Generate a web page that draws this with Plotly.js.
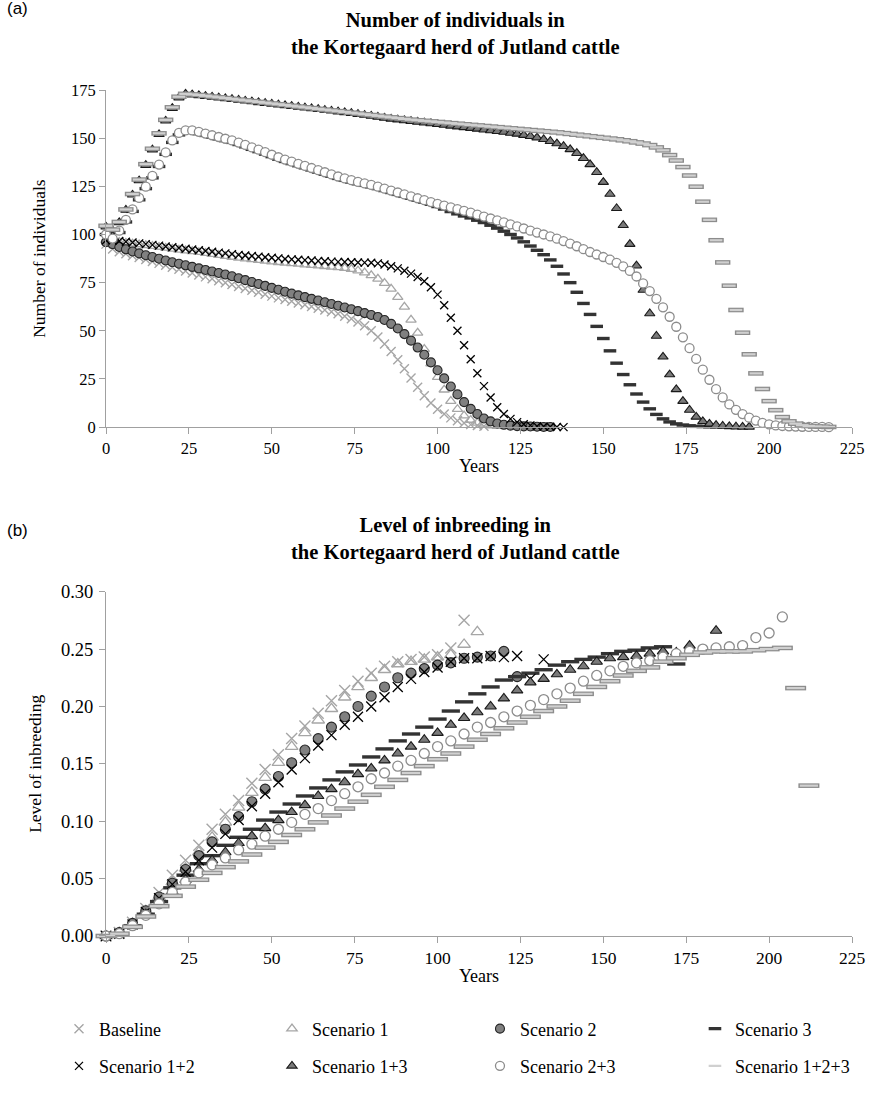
<!DOCTYPE html>
<html><head><meta charset="utf-8">
<script src="https://cdn.plot.ly/plotly-3.0.1.min.js"></script>
<style>html,body{margin:0;padding:0;background:#fff}#chart{width:872px;height:1097px}</style>
</head><body><div id="chart"></div>
<script>
// ---------- DATA ----------
const names = ['Baseline','Scenario 1','Scenario 2','Scenario 3','Scenario 1+2','Scenario 1+3','Scenario 2+3','Scenario 1+2+3'];

// (a) number of individuals, every 2 years
const yearsA = [0,2,4,6,8,10,12,14,16,18,20,22,24,26,28,30,32,34,36,38,40,42,44,46,48,50,52,54,56,58,60,62,64,66,68,70,72,74,76,78,80,82,84,86,88,90,92,94,96,98,100,102,104,106,108,110,112,114,116,118,120,122,124,126,128,130,132,134,136,138,140,142,144,146,148,150,152,154,156,158,160,162,164,166,168,170,172,174,176,178,180,182,184,186,188,190,192,194,196,198,200,202,204,206,208,210,212,214,216,218];

const nBaseline = [95,92.5,91,90,89,88,87,86,85,84,83,82,81,80,79,78,77,76,75,74,73,72,71,70,69,68,67.1,66.2,65.3,64.4,63.5,62.6,61.7,60.8,59.9,58.8,57.6,56.2,54.6,52.6,50,46.8,43.2,39.3,35,30.3,25.5,20.7,16.3,12.5,9.3,6.8,4.8,3.3,2.1,1.3,0.8,0.4];
const nS1 = [97,96.4,96,95.6,95.2,94.8,94.4,94,93.5,93,92.5,92,91.6,91.2,90.8,90.3,89.8,89.3,88.8,88.3,87.9,87.5,87.1,86.7,86.3,85.9,85.6,85.3,85,84.7,84.4,84.1,83.8,83.5,83.2,82.9,82.5,82,81.2,80.2,78.8,77,74.8,71.8,67.5,62.4,55.7,48.9,40.5,33,26,19.4,13.5,9.3,6,3.7,2.2,1.3,0.8,0.5];
const nS2 = [96,95,93.5,92.3,91.2,90.2,89.2,88.3,87.4,86.5,85.6,84.8,84,83.2,82.4,81.6,80.8,80,79.2,78.3,77.3,76.3,75.3,74.3,73.3,72.3,71.3,70.3,69.3,68.4,67.5,66.6,65.7,64.8,63.9,63,62.1,61.2,60.2,59.2,58.2,57.2,55.6,53.6,51.2,48.3,44.9,41.3,37.6,33.6,29.5,25.3,21.1,17,13,9.5,6.8,4.5,3,1.9,1.2,0.8,0.5,0.4,0.3,0.2,0.1,0.1];
const nS3 = [100,97,101,106.5,112,118,123.8,129.4,135.3,141.6,147.8,151.7,153,153,152.3,151.4,150.5,149.6,148.7,147.8,146.7,145.5,144.2,143,141.7,140.4,139.1,137.9,136.8,135.7,134.6,133.5,132.4,131.3,130.2,129.1,128.1,127.2,126.3,125.5,124.7,123.8,122.8,121.8,120.8,119.8,118.8,117.8,116.8,115.7,114.5,113.2,111.9,110.7,109.6,108.6,107.4,106.2,104.8,103.3,101.7,100,98.2,96.2,94,91.8,89.5,86.8,83.5,79.5,75,70,64.2,58.5,52.3,46,39.6,33.2,27.3,22,17.2,13,9.5,6.6,4.3,2.7,1.7,1.1,0.7,0.4,0.3,0.2,0.1];
const nS12 = [97,97,96.6,96.2,95.8,95.4,95,94.6,94.2,93.8,93.4,93,92.6,92.2,91.8,91.4,91,90.6,90.2,89.8,89.4,89.1,88.8,88.5,88.2,87.9,87.6,87.3,87.1,86.9,86.7,86.5,86.3,86.1,85.9,85.8,85.7,85.6,85.5,85.4,85.3,85,84.4,83.5,82.4,81.2,79.7,77.9,75.7,72.6,68.8,63.3,56.8,50,42.5,35.2,28,21.3,15.4,10.3,6.8,4.3,2.6,1.5,0.9,0.5,0.3,0.2,0.1,0];
const nS13 = [104,102,106.3,112.7,120.6,128,136,144,152,159,165.6,171,173,172.6,172.2,171.8,171.4,171,170.6,170.2,169.8,169.4,169,168.6,168.2,167.8,167.4,167,166.6,166.2,165.8,165.4,165,164.6,164.2,163.8,163.4,163,162.5,162,161.5,161,160.5,160,159.6,159.2,158.8,158.4,158,157.6,157.2,156.8,156.4,156,155.6,155.2,154.8,154.4,154,153.6,153.2,152.7,152.2,151.6,151,150.3,149.4,148.4,147.2,145.8,144.2,142.2,139.6,136.4,132.3,127.2,121,113.6,104.8,95,83.8,71.2,59,47.3,36.5,27.3,19.6,13.5,8.9,5.3,3,1.7,1,0.6,0.4,0.2,0.1,0.1];
const nS23 = [100,97.9,102,107.6,113,119,124.8,130.4,136.3,142.6,148.8,152.7,154,154,153.3,152.4,151.5,150.6,149.7,148.8,147.7,146.5,145.2,144,142.7,141.4,140.1,138.9,137.8,136.7,135.6,134.5,133.4,132.3,131.2,130.1,129.1,128.2,127.3,126.5,125.7,124.8,123.8,122.8,121.8,120.8,119.8,118.8,117.8,116.8,115.9,115,114.1,113.2,112.3,111.3,110.3,109.3,108.3,107.3,106.3,105.2,104.2,103.1,102,101,100,99,97.8,96.6,95.3,93.9,92.4,90.9,89.6,88.3,86.9,85.3,83.4,81.1,78.2,74.6,70.6,66.6,62.2,57.3,52.1,46.6,41,35.4,29.8,24.6,19.7,15.4,11.8,9,6.8,4.9,3.4,2.2,1.4,0.9,0.6,0.4,0.3,0.2,0.1,0.1,0.1,0];
const nS123 = [104.5,102.5,106.5,113,121,128.5,136.5,144.5,152.5,159.5,166,171.5,173,172.7,172.4,172,171.6,171.2,170.8,170.4,170,169.6,169.2,168.8,168.4,168,167.6,167.2,166.8,166.4,166,165.6,165.2,164.8,164.4,164,163.6,163.2,162.8,162.4,162,161.6,161.2,160.8,160.4,160,159.6,159.3,159,158.7,158.4,158.1,157.8,157.5,157.2,156.9,156.6,156.3,156,155.7,155.4,155.1,154.8,154.5,154.2,153.9,153.6,153.3,153,152.6,152.2,151.8,151.4,151,150.6,150.2,149.8,149.4,148.9,148.4,147.8,147.2,146.4,145.2,143.7,141.2,138.4,135,130.6,124.8,117,107.6,97,85.5,73.4,60.8,49,37.8,27.9,19.8,13.5,8.8,5.2,3,1.8,1,0.6,0.3,0.2,0.1];

// (b) level of inbreeding, every 4 years
const yearsB = [0,4,8,12,16,20,24,28,32,36,40,44,48,52,56,60,64,68,72,76,80,84,88,92,96,100,104,108,112,116,120,124,128,132,136,140,144,148,152,156,160,164,168,172,176,180,184,188,192,196,200,204,208,212];

const fBaseline = [0,0.003,0.012,0.024,0.038,0.053,0.066,0.079,0.093,0.106,0.118,0.133,0.145,0.158,0.172,0.183,0.194,0.205,0.214,0.222,0.229,0.235,0.239,0.241,0.243,0.245,0.251,0.275];
const fS1 = [0,0.003,0.011,0.022,0.034,0.047,0.059,0.073,0.086,0.099,0.112,0.125,0.138,0.151,0.165,0.177,0.188,0.198,0.208,0.217,0.225,0.232,0.237,0.239,0.241,0.243,0.245,0.254,0.265];
const fS2 = [0,0.003,0.011,0.022,0.034,0.046,0.058,0.070,0.082,0.093,0.104,0.117,0.128,0.139,0.151,0.162,0.172,0.182,0.191,0.200,0.209,0.217,0.225,0.229,0.233,0.236,0.238,0.242,0.243,0.244,0.248,0.226];
const fS3 = [0,0.002,0.009,0.019,0.030,0.042,0.053,0.063,0.070,0.079,0.086,0.093,0.101,0.108,0.115,0.122,0.129,0.136,0.143,0.149,0.156,0.163,0.170,0.176,0.182,0.189,0.196,0.204,0.211,0.217,0.223,0.226,0.229,0.232,0.236,0.239,0.241,0.243,0.246,0.248,0.249,0.251,0.252,0.237];
const fS12 = [0,0.002,0.010,0.021,0.033,0.045,0.056,0.066,0.077,0.089,0.101,0.113,0.124,0.134,0.145,0.155,0.166,0.175,0.184,0.191,0.200,0.208,0.217,0.224,0.230,0.234,0.239,0.242,0.242,0.244,0.243,0.244,0.224,0.241];
const fS13 = [0,0.002,0.009,0.019,0.029,0.039,0.049,0.058,0.066,0.073,0.081,0.087,0.094,0.101,0.108,0.114,0.122,0.128,0.134,0.141,0.146,0.153,0.159,0.165,0.171,0.177,0.184,0.190,0.195,0.200,0.207,0.214,0.221,0.224,0.228,0.232,0.235,0.239,0.242,0.243,0.244,0.246,0.248,0.247,0.253,null,0.266];
const fS23 = [0,0.002,0.009,0.018,0.028,0.038,0.047,0.055,0.062,0.068,0.075,0.080,0.087,0.093,0.099,0.106,0.111,0.118,0.124,0.130,0.137,0.142,0.148,0.153,0.159,0.165,0.170,0.176,0.182,0.186,0.191,0.196,0.201,0.206,0.211,0.216,0.222,0.227,0.231,0.235,0.238,0.240,0.243,0.246,0.248,0.250,0.251,0.252,0.253,0.260,0.264,0.278];
const fS123 = [0,0.002,0.008,0.017,0.026,0.035,0.043,0.049,0.055,0.060,0.065,0.071,0.077,0.082,0.088,0.093,0.099,0.105,0.111,0.117,0.123,0.130,0.136,0.142,0.148,0.154,0.159,0.165,0.171,0.176,0.181,0.186,0.191,0.196,0.200,0.205,0.211,0.217,0.222,0.227,0.231,0.234,0.239,0.242,0.245,0.247,0.248,0.248,0.248,0.249,0.250,0.251,0.216,0.131];

const valsA = [nBaseline,nS1,nS2,nS3,nS12,nS13,nS23,nS123];
const valsB = [fBaseline,fS1,fS2,fS3,fS12,fS13,fS23,fS123];

// ---------- STYLE ----------
const sty = [
  {symbol:'x-thin',           fill:'#a6a6a6', line:'#a6a6a6', lw:1.4, sA:9,  sB:11},
  {symbol:'triangle-up-open', fill:'#a6a6a6', line:'#a6a6a6', lw:1.3, sA:9,  sB:11},
  {symbol:'circle',           fill:'#808080', line:'#262626', lw:1.1, sA:9,  sB:10},
  {symbol:'line-ew',          fill:'#333333', line:'#333333', lw:3.4, sA:9,  sB:13},
  {symbol:'x-thin',           fill:'#000000', line:'#000000', lw:1.3, sA:8,  sB:10},
  {symbol:'triangle-up',      fill:'#7a7a7a', line:'#1a1a1a', lw:1.1, sA:9,  sB:10},
  {symbol:'circle',           fill:'#ffffff', line:'#8c8c8c', lw:1.3, sA:9,  sB:10},
  {symbol:'line-ew',          fill:'#d0d0d0', line:'#d0d0d0', lw:2.2, sA:9,  sB:13, border:'#8c8c8c'}
];
const legendIds = ['legend','legend2','legend3','legend4','legend5','legend6','legend7','legend8'];

const traces = [];
function addPanel(years, vals, xa, ya, sizeKey, legendOn) {
  vals.forEach((v, i) => {
    const s = sty[i];
    const xs = years.slice(0, v.length);
    const sz = s[sizeKey];
    if (s.border) {
      traces.push({type:'scatter', mode:'markers', x:xs, y:v, xaxis:xa, yaxis:ya, cliponaxis:false,
        showlegend:false, hoverinfo:'skip',
        marker:{symbol:'line-ew', size:sz+2, color:s.border, line:{color:s.border, width:s.lw+2.4}}});
    }
    traces.push({type:'scatter', mode:'markers', name:names[i], x:xs, y:v, xaxis:xa, yaxis:ya,
      cliponaxis:false, showlegend:legendOn, legend:legendIds[i],
      marker:{symbol:s.symbol, size:sz, color:s.fill, line:{color:s.line, width:s.lw}}});
  });
}
addPanel(yearsA, valsA, 'x', 'y', 'sA', true);
addPanel(yearsB, valsB, 'x2', 'y2', 'sB', false);

const axCommon = {showgrid:false, zeroline:false, showline:true, linecolor:'#a0a0a0', linewidth:1,
  ticks:'outside', ticklen:6, tickcolor:'#a0a0a0', tickfont:{size:17, color:'#000'}, fixedrange:true};

const serif = 'Liberation Serif, Times New Roman, serif';
const sans = 'Liberation Sans, Arial, sans-serif';

// legend slots: 4 columns x 2 rows
const colX = [-0.063, 0.2225, 0.5013, 0.7895];
const rowY = [-0.088, -0.132];
const layout = {
  width:872, height:1097,
  margin:{l:106, r:20, t:90, b:138},
  paper_bgcolor:'#ffffff', plot_bgcolor:'#ffffff',
  font:{family:serif, size:17, color:'#000'},
  xaxis:Object.assign({}, axCommon, {domain:[0,1], anchor:'y', range:[0,225], tick0:0, dtick:25,
    tickfont:{size:16.5, color:'#000'}, title:{text:'Years', standoff:2, font:{size:18}}}),
  yaxis:Object.assign({}, axCommon, {domain:[0.6015,1], anchor:'x', range:[0,175], tick0:0, dtick:25,
    tickfont:{size:16.5, color:'#000'}, title:{text:'Number of individuals', standoff:20, font:{size:17.5}}}),
  xaxis2:Object.assign({}, axCommon, {domain:[0,1], anchor:'y2', range:[0,225], tick0:0, dtick:25,
    tickfont:{size:17.5, color:'#000'}, title:{text:'Years', standoff:2, font:{size:18}}}),
  yaxis2:Object.assign({}, axCommon, {domain:[0,0.407], anchor:'x2', range:[0,0.3], tick0:0, dtick:0.05, tickformat:'.2f',
    tickfont:{size:18.5, color:'#000'}, ticklabelstandoff:2, title:{text:'Level of inbreeding', standoff:14, font:{size:17.5}}}),
  annotations:[
    {text:'(a)', xref:'paper', yref:'paper', x:-0.118, y:1.096, xanchor:'center', yanchor:'middle', showarrow:false,
      font:{family:sans, size:17}},
    {text:'<b>Number of individuals in<br>the Kortegaard herd of Jutland cattle</b>', xref:'paper', yref:'paper',
      x:0.468, y:1.066, xanchor:'center', yanchor:'middle', showarrow:false, font:{size:20.5}},
    {text:'(b)', xref:'paper', yref:'paper', x:-0.118, y:0.479, xanchor:'center', yanchor:'middle', showarrow:false,
      font:{family:sans, size:17}},
    {text:'<b>Level of inbreeding in<br>the Kortegaard herd of Jutland cattle</b>', xref:'paper', yref:'paper',
      x:0.468, y:0.469, xanchor:'center', yanchor:'middle', showarrow:false, font:{size:20.5}}
  ]
};
legendIds.forEach((id, i) => {
  layout[id] = {orientation:'h', x:colX[i % 4], xanchor:'left', y:rowY[Math.floor(i / 4)], yanchor:'top',
    font:{size:18}, bgcolor:'rgba(0,0,0,0)', itemclick:false, itemdoubleclick:false};
});

Plotly.newPlot('chart', traces, layout, {displayModeBar:false, staticPlot:true});
</script></body></html>
